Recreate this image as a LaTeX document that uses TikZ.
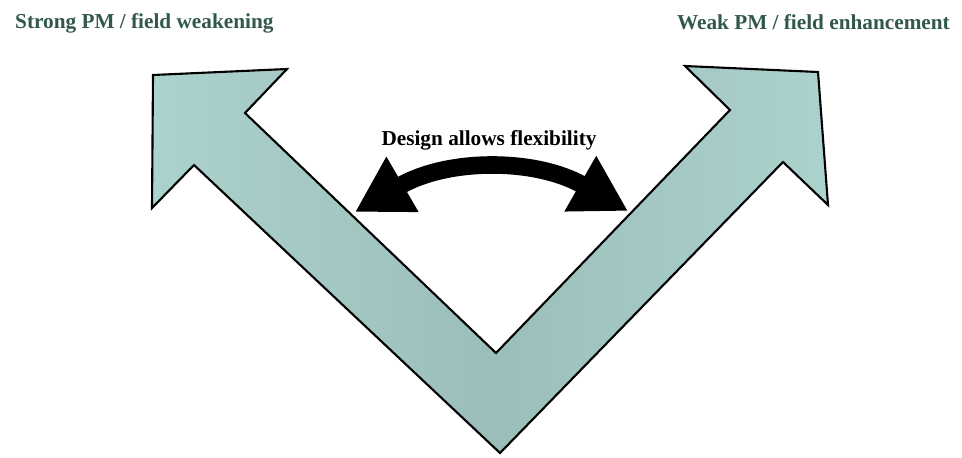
\documentclass[tikz,border=0pt]{standalone}
\usepackage{fontspec}
\setmainfont{Liberation Serif}
\usetikzlibrary{arrows.meta}
\definecolor{vfill}{RGB}{172,210,206}
\definecolor{vshade}{RGB}{155,190,186}
\definecolor{vtext}{RGB}{50,88,78}

\begin{document}
\begin{tikzpicture}[x=0.02cm, y=-0.02cm, every node/.style={font=\bfseries\fontsize{12.1}{14}\selectfont}]
	\useasboundingbox (0,0) rectangle (962,457);
	\draw[line width=1.2pt, line join=miter, left color=vfill, right color=vfill, middle color=vshade] (500,453) -- (194,165) -- (152,208) -- (153,75) -- (287,69) -- (245,113) -- (496,353) -- (730,110) -- (685,66) -- (818,72) -- (828,205) -- (783,162) -- cycle;
	\node[vtext, anchor=west] (strong) at (9,23) {Strong PM / field weakening};
	\node[vtext, anchor=east] (weak) at (956,22) {Weak PM / field enhancement};
	\node (flex) at (489,140) {Design allows flexibility};
	\coordinate (flexL) at (355,212);
	\coordinate (flexR) at (628,211);
	\draw[line width=10pt, {Triangle[length=1.1cm,width=1.2cm]}-{Triangle[length=1.1cm,width=1.2cm]}] (flexL) to[bend left=30] (flexR);
\end{tikzpicture}
\end{document}
